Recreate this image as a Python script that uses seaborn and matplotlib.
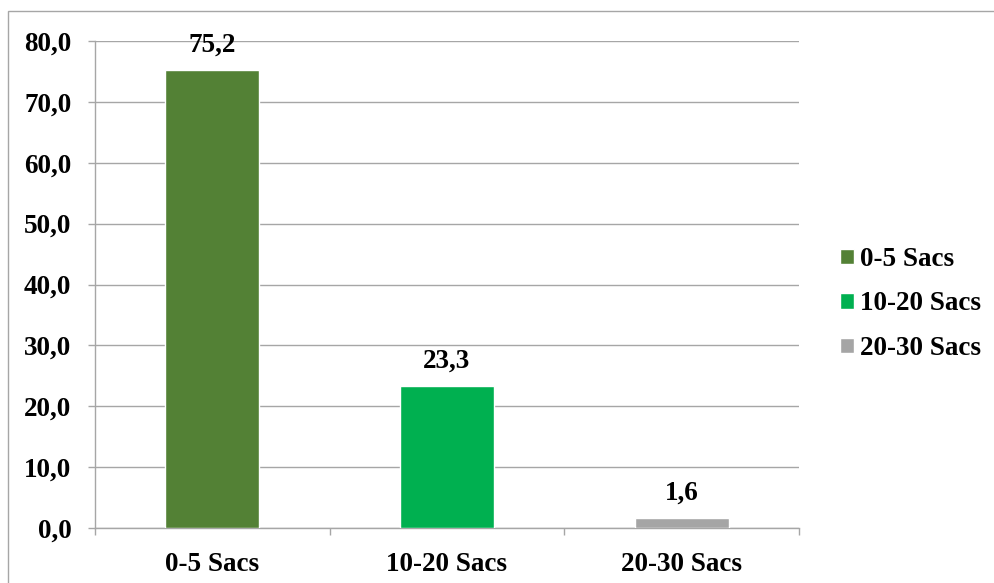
import matplotlib
matplotlib.use("Agg")
import matplotlib.pyplot as plt
import seaborn as sns
import pandas as pd
from matplotlib.patches import Rectangle

# Data
categories = ["0-5 Sacs", "10-20 Sacs", "20-30 Sacs"]
values = [75.2, 23.3, 1.6]
colors = ["#538135", "#00B050", "#A5A5A5"]
y_ticks = [0, 10, 20, 30, 40, 50, 60, 70, 80]

sns.set_theme(style="white")
plt.rcParams["font.family"] = ["Liberation Serif", "DejaVu Serif"]
plt.rcParams["font.weight"] = "bold"
plt.rcParams["text.color"] = "black"

FS = 19.5
W, H = 994, 583
fig = plt.figure(figsize=(W / 100, H / 100), dpi=100)
fig.patch.set_facecolor("white")

# outer chart frame
fig.patches.append(Rectangle((8 / W, -0.1), 1.2, 1.1 - 11 / H, transform=fig.transFigure,
                             fill=False, edgecolor="#A6A6A6", linewidth=1.0, zorder=0))

left, right, top, bottom = 95, 799, 41, 528
ax = fig.add_axes([left / W, 1 - bottom / H, (right - left) / W, (bottom - top) / H])

df = pd.DataFrame({"cat": categories, "val": values})
sns.barplot(data=df, x="cat", y="val", hue="cat", palette=colors, width=0.4,
            dodge=False, legend=True, ax=ax, saturation=1, zorder=3)

grid_color = "#A6A6A6"
ax.set_ylim(0, 80)
ax.set_xlim(-0.5, len(categories) - 0.5)
ax.set_yticks(y_ticks)
ax.set_yticklabels([f"{t:.1f}".replace(".", ",") for t in y_ticks])
ax.yaxis.grid(True, color=grid_color, linewidth=1.0, zorder=0)
ax.set_axisbelow(True)

for s in ["top", "right"]:
    ax.spines[s].set_visible(False)
for s in ["left", "bottom"]:
    ax.spines[s].set_color(grid_color)
    ax.spines[s].set_linewidth(1.0)

# category boundary ticks on the x axis
ax.set_xticks([0, 1, 2])
ax.set_xticklabels(categories)
ax.set_xticks([-0.5, 0.5, 1.5, 2.5], minor=True)
ax.tick_params(axis="x", which="major", length=0, pad=17, labelsize=FS, colors="black")
ax.tick_params(axis="x", which="minor", length=5, width=1.0, color=grid_color, direction="out", bottom=True)
ax.tick_params(axis="y", length=5, width=1.0, color=grid_color, direction="out", left=True,
               pad=12, labelsize=FS, labelcolor="black")
for lab in ax.get_xticklabels() + ax.get_yticklabels():
    lab.set_fontweight("bold")

ax.set_xlabel("")
ax.set_ylabel("")

# value labels
for cont in ax.containers:
    labs = [f"{b.get_height():.1f}".replace(".", ",") if b.get_height() == b.get_height() else "" for b in cont]
    ax.bar_label(cont, labels=labs, padding=9, fontsize=FS, fontweight="bold", color="black")

sns.move_legend(ax, "center left", bbox_to_anchor=(840 / W, 1 - 304 / H),
                bbox_transform=fig.transFigure, frameon=False, title=None,
                fontsize=FS, handlelength=0.5, handleheight=0.5, handletextpad=0.25,
                labelspacing=0.72, borderpad=0, borderaxespad=0)
for t in ax.get_legend().get_texts():
    t.set_fontweight("bold")
    t.set_color("black")

fig.savefig("out.png", dpi=100, facecolor="white")
